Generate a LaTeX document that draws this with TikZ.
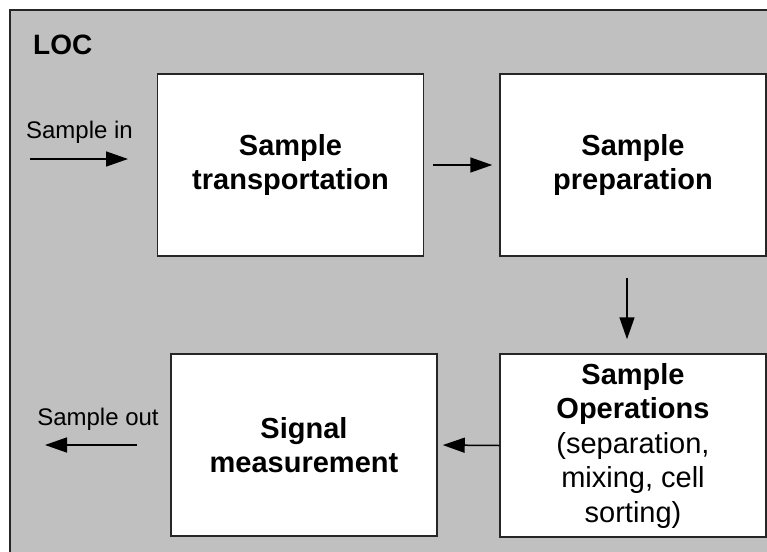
\documentclass[tikz,border=0pt]{standalone}
\usepackage{fontspec}
\setmainfont{Liberation Sans}
\usetikzlibrary{arrows.meta}
\definecolor{panelgray}{HTML}{C0C0C0}
\definecolor{edgedark}{HTML}{262626}
\begin{document}
\begin{tikzpicture}[x=1pt,y=-1pt,
  stagebox/.style={draw=edgedark, line width=1.5pt, fill=white, rectangle,
    minimum width=266pt, minimum height=182pt, inner sep=0pt, align=center,
    font=\fontsize{29}{34.5}\selectfont},
  flow/.style={line width=1.5pt, -{Triangle[length=22pt,width=15pt]}},
  iolabel/.style={font=\fontsize{24}{28}\selectfont, anchor=base, inner sep=0pt}]
\useasboundingbox (0,0) rectangle (767,551);
\begin{scope}
\clip (0,0) rectangle (767,551);
\draw[fill=panelgray, draw=edgedark, line width=2pt] (10,10) rectangle (790,580);
\end{scope}
\node[anchor=base west, inner sep=0pt, font=\fontsize{28}{32}\selectfont\bfseries] (loc) at (33,55) {LOC};
\node[stagebox] (trans) at (290.5,165) {\bfseries Sample\\\bfseries transportation};
\node[stagebox] (prep) at (633,165) {\bfseries Sample\\\bfseries preparation};
\node[stagebox, minimum height=183pt] (ops) at (633,445.5) {\bfseries Sample\\\bfseries Operations\\(separation,\\mixing, cell\\sorting)};
\node[stagebox] (sig) at (304,445) {\bfseries Signal\\\bfseries measurement};
\node[iolabel] (inlab) at (79.5,138) {Sample in};
\node[iolabel] (outlab) at (98,425) {Sample out};
\coordinate (instart) at (30,159);
\coordinate (inend) at (128,159);
\coordinate (outstart) at (137,445);
\coordinate (outend) at (45,445);
\draw[flow] (instart) -- (inend);
\draw[flow, shorten <=9pt, shorten >=7pt] (trans.east) -- (prep.west);
\draw[flow, shorten <=21pt, shorten >=14pt] ([xshift=-6pt]prep.south) -- ([xshift=-6pt]ops.north);
\draw[flow, shorten >=5pt] (ops.west) -- (sig.east);
\draw[flow] (outstart) -- (outend);
\end{tikzpicture}
\end{document}
